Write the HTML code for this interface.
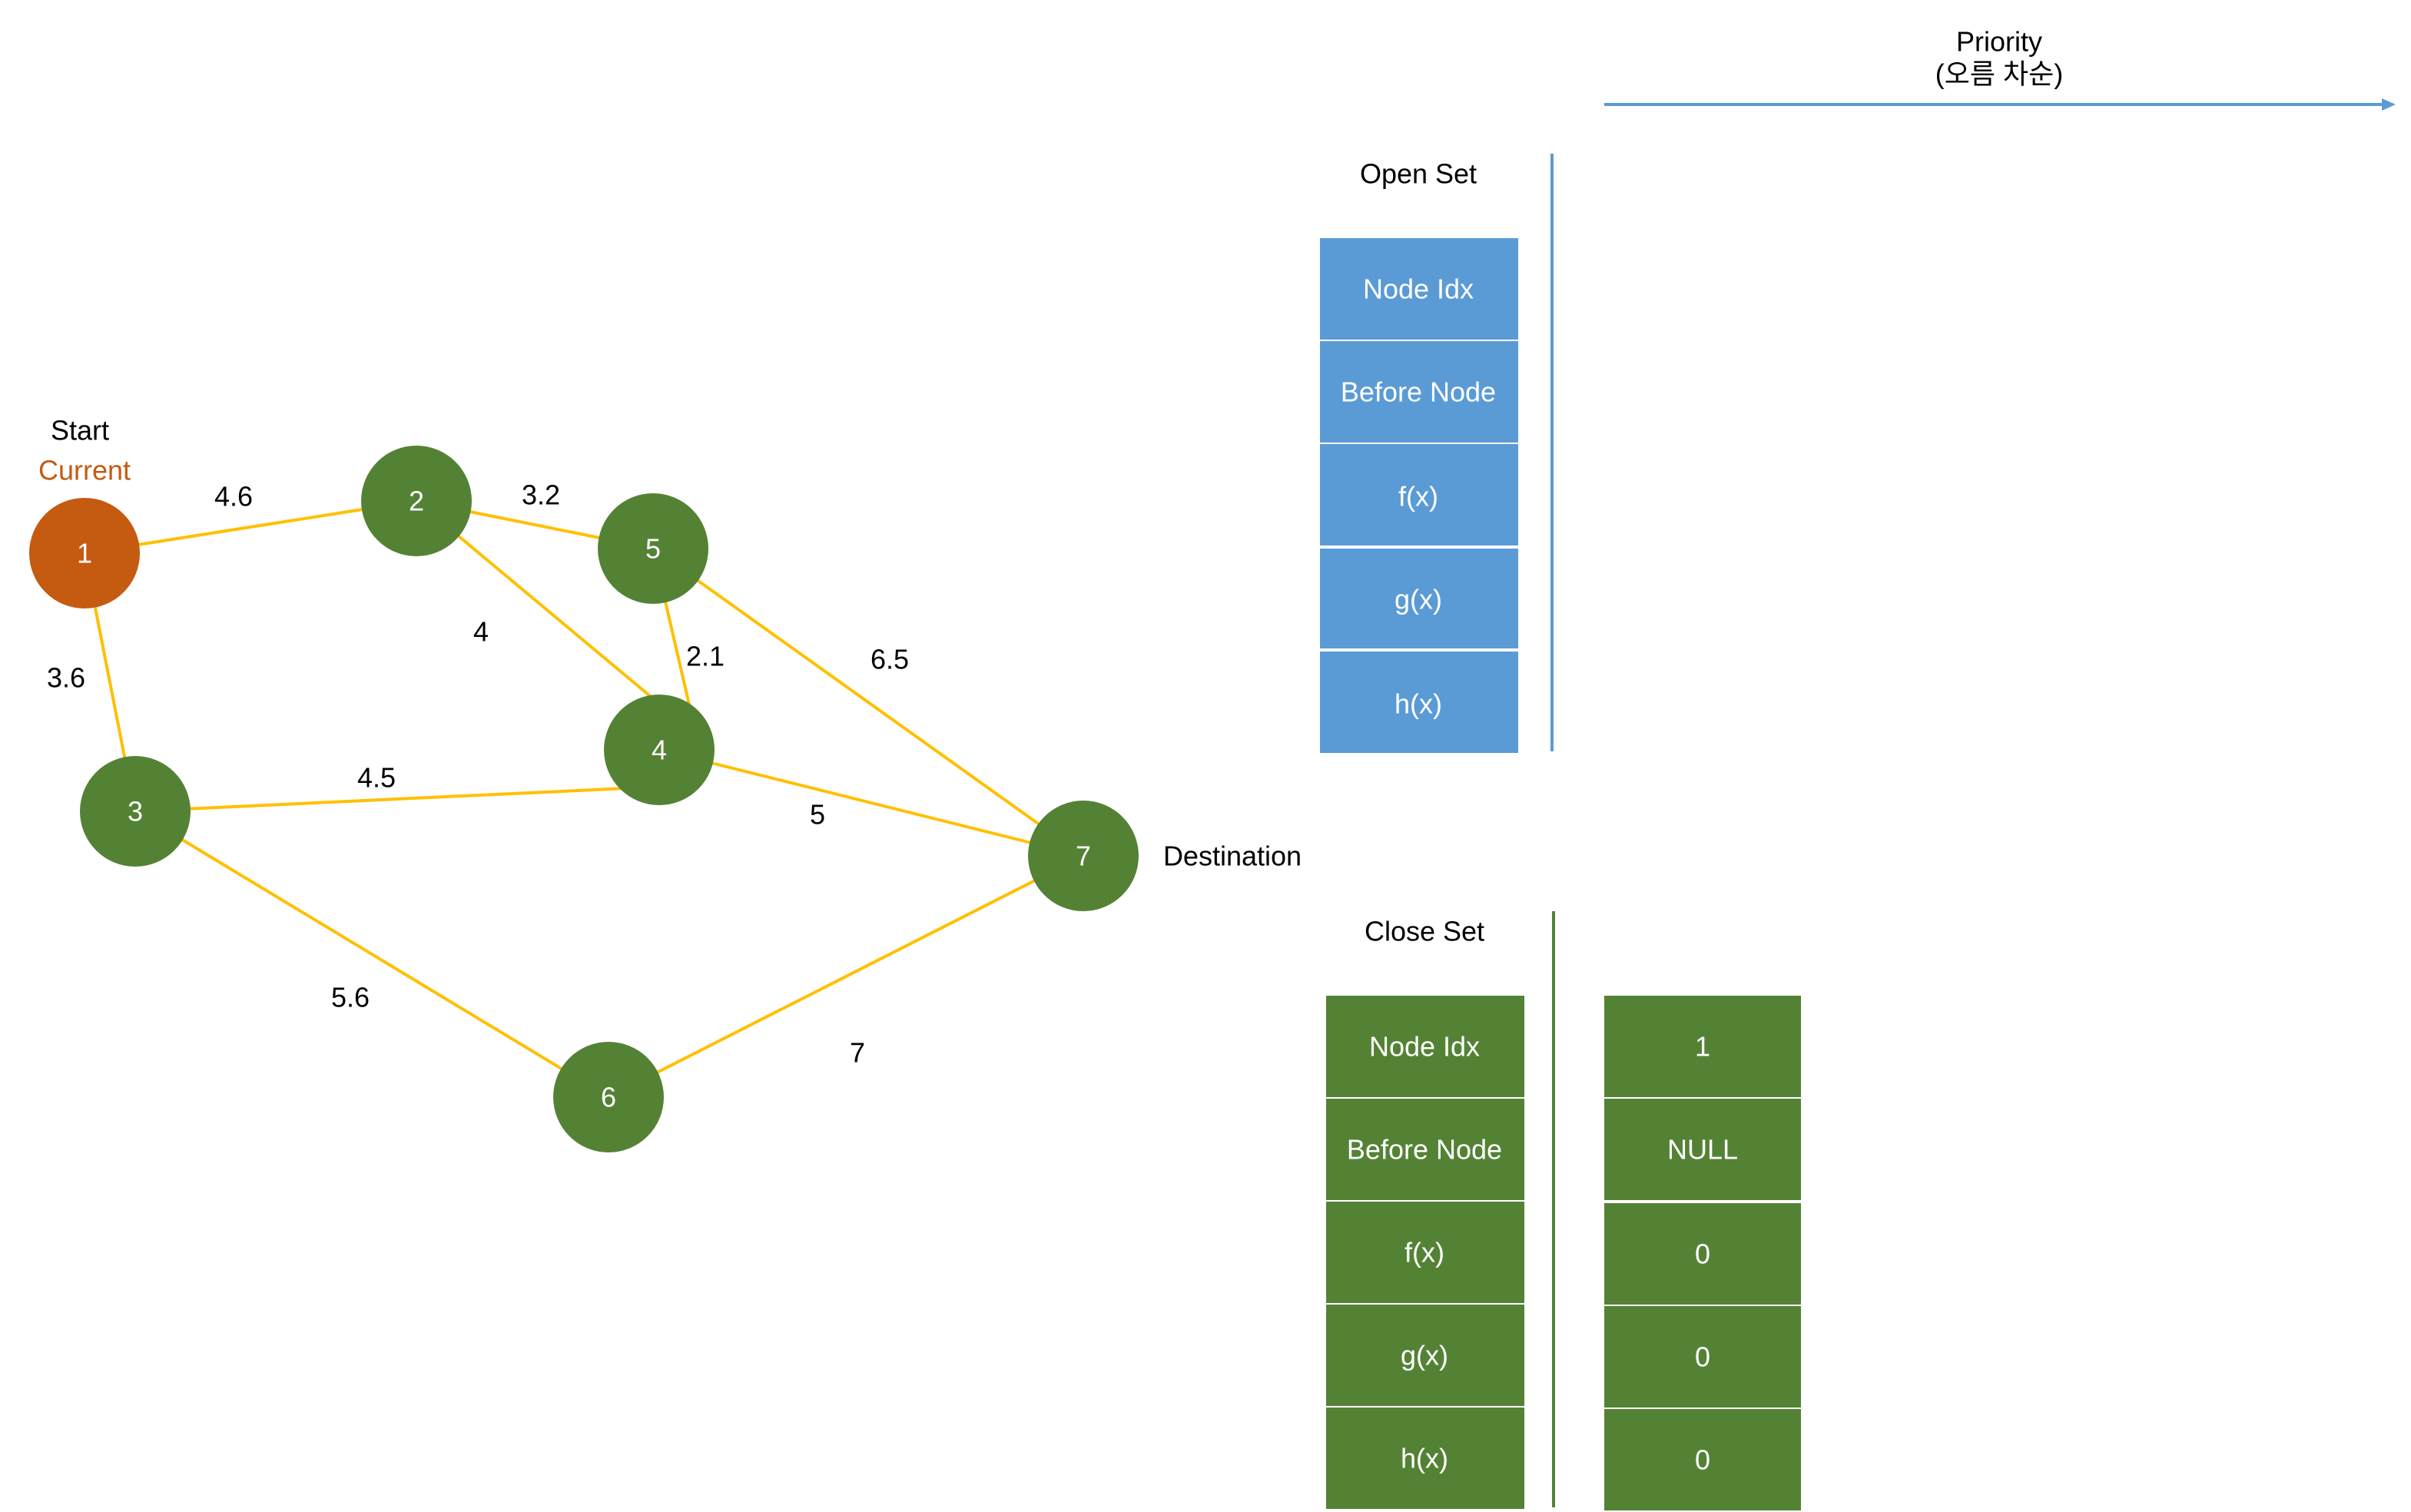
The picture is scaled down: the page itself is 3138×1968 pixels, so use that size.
<!DOCTYPE html>
<html><head><meta charset="utf-8"><style>
html,body{margin:0;padding:0;background:#fff;}
svg{display:block;}
text{font-family:"Liberation Sans","Noto Sans CJK KR",sans-serif;font-size:18px;}
</style></head><body>
<svg width="3138" height="1968" viewBox="0 0 1569 984" xmlns="http://www.w3.org/2000/svg">
<g stroke="#FFC000" stroke-width="2">
<line x1="55" y1="360" x2="271" y2="326"/>
<line x1="55" y1="360" x2="88" y2="528"/>
<line x1="271" y1="326" x2="425" y2="357"/>
<line x1="271" y1="326" x2="453" y2="478"/>
<line x1="425" y1="357" x2="453" y2="478"/>
<line x1="425" y1="357" x2="705" y2="557"/>
<line x1="88" y1="528" x2="429" y2="512"/>
<line x1="429" y1="488" x2="705" y2="557"/>
<line x1="88" y1="528" x2="396" y2="714"/>
<line x1="396" y1="714" x2="705" y2="557"/>
</g>
<g fill="#548235">
<circle cx="271" cy="326" r="36"/>
<circle cx="425" cy="357" r="36"/>
<circle cx="429" cy="488" r="36"/>
<circle cx="88" cy="528" r="36"/>
<circle cx="705" cy="557" r="36"/>
<circle cx="396" cy="714" r="36"/>
</g>
<circle cx="55" cy="360" r="36" fill="#C55A11"/>
<g fill="#fff" text-anchor="middle" dominant-baseline="central">
<text x="55" y="360">1</text><text x="271" y="326">2</text><text x="425" y="357">5</text>
<text x="429" y="488">4</text><text x="88" y="528">3</text><text x="705" y="557">7</text><text x="396" y="714">6</text>
</g>
<g fill="#000" text-anchor="middle" dominant-baseline="central">
<text x="152" y="323">4.6</text><text x="352" y="322">3.2</text><text x="313" y="411">4</text>
<text x="459" y="427">2.1</text><text x="579" y="429">6.5</text><text x="43" y="441">3.6</text>
<text x="245" y="506">4.5</text><text x="532" y="530">5</text><text x="228" y="649">5.6</text>
<text x="558" y="685">7</text>
<text x="52" y="280">Start</text>
<text x="802" y="557">Destination</text>
<text x="923" y="113">Open Set</text>
<text x="927" y="606">Close Set</text>
<text x="1301" y="27">Priority</text>
<text x="1301" y="48">(오름 차순)</text>
</g>
<text x="55" y="306" fill="#C55A11" text-anchor="middle" dominant-baseline="central">Current</text>
<line x1="1044" y1="68" x2="1552" y2="68" stroke="#5B9BD5" stroke-width="2"/>
<polygon points="1559,68 1550,64 1550,72" fill="#5B9BD5"/>
<line x1="1010" y1="100" x2="1010" y2="489" stroke="#5B9BD5" stroke-width="2"/>
<line x1="1011" y1="593" x2="1011" y2="981" stroke="#548235" stroke-width="2"/>
<g fill="#5B9BD5">
<rect x="859" y="155" width="129" height="66"/><rect x="859" y="222" width="129" height="66"/>
<rect x="859" y="289" width="129" height="66"/><rect x="859" y="357" width="129" height="65"/>
<rect x="859" y="424" width="129" height="66"/>
</g>
<g fill="#548235">
<rect x="863" y="648" width="129" height="66"/><rect x="863" y="715" width="129" height="66"/>
<rect x="863" y="782" width="129" height="66"/><rect x="863" y="849" width="129" height="66"/>
<rect x="863" y="916" width="129" height="66"/>
<rect x="1044" y="648" width="128" height="66"/><rect x="1044" y="715" width="128" height="66"/>
<rect x="1044" y="783" width="128" height="66"/><rect x="1044" y="850" width="128" height="66"/>
<rect x="1044" y="917" width="128" height="66"/>
</g>
<g fill="#fff" text-anchor="middle" dominant-baseline="central">
<text x="923" y="188">Node Idx</text><text x="923" y="255">Before Node</text><text x="923" y="323">f(x)</text>
<text x="923" y="390">g(x)</text><text x="923" y="458">h(x)</text>
<text x="927" y="681">Node Idx</text><text x="927" y="748">Before Node</text><text x="927" y="815">f(x)</text>
<text x="927" y="882">g(x)</text><text x="927" y="949">h(x)</text>
<text x="1108" y="681">1</text><text x="1108" y="748">NULL</text><text x="1108" y="816">0</text>
<text x="1108" y="883">0</text><text x="1108" y="950">0</text>
</g>
</svg>
</body></html>
